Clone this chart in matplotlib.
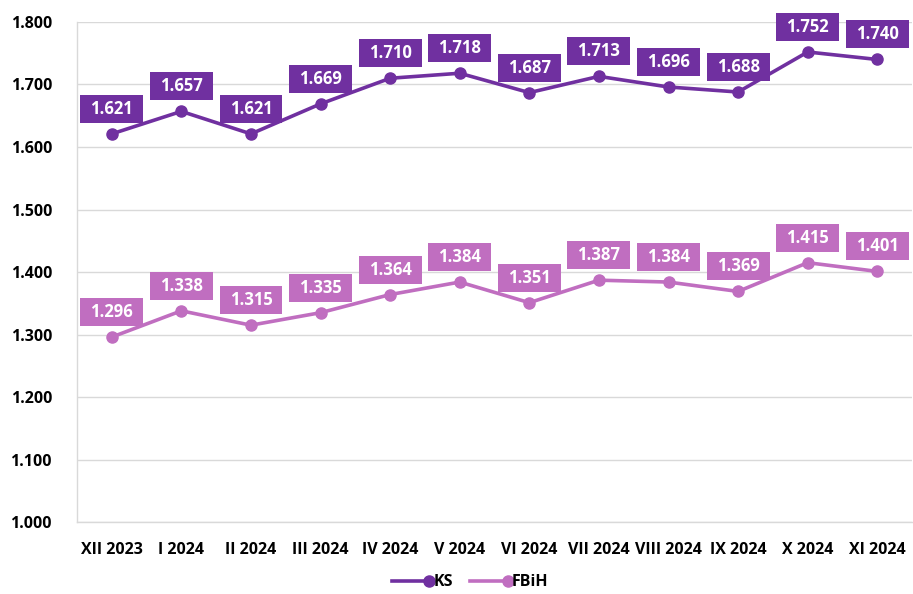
import matplotlib
matplotlib.use("Agg")
import matplotlib.pyplot as plt
from matplotlib.legend_handler import HandlerBase
from matplotlib.lines import Line2D
from matplotlib.path import Path

categories = ["XII 2023", "I 2024", "II 2024", "III 2024", "IV 2024", "V 2024",
              "VI 2024", "VII 2024", "VIII 2024", "IX 2024", "X 2024", "XI 2024"]
ks = [1.621, 1.657, 1.621, 1.669, 1.710, 1.718, 1.687, 1.713, 1.696, 1.688, 1.752, 1.740]
fbih = [1.296, 1.338, 1.315, 1.335, 1.364, 1.384, 1.351, 1.387, 1.384, 1.369, 1.415, 1.401]
yticks = [1.0, 1.1, 1.2, 1.3, 1.4, 1.5, 1.6, 1.7, 1.8]

plt.rcParams['font.family'] = ['Open Sans', 'DejaVu Sans']

c_ks = "#7030A0"
c_fb = "#C06EC0"

fig = plt.figure(figsize=(9.13, 5.94), dpi=100)
ax = fig.add_axes([0.0843, 0.121, 0.9147, 0.842])

x = list(range(len(categories)))
ax.plot(x, ks, color=c_ks, lw=2.6, marker='o', ms=8, label="KS", zorder=3)
ax.plot(x, fbih, color=c_fb, lw=2.6, marker='o', ms=8, label="FBiH", zorder=3)


def label_box(x0, y0, width, height, mutation_size):
    px = 0.6 * mutation_size
    py = 0.3 * mutation_size
    xa, xb = x0 - px, x0 + width + px
    ya, yb = y0 - py, y0 + height + py
    return Path([(xa, ya), (xb, ya), (xb, yb), (xa, yb), (xa, ya)],
                [Path.MOVETO, Path.LINETO, Path.LINETO, Path.LINETO, Path.CLOSEPOLY])


def fmt(v):
    return f"{v:.3f}"

for series, col in ((ks, c_ks), (fbih, c_fb)):
    for xi, v in zip(x, series):
        ax.annotate(fmt(v), (xi, v), xytext=(0, 18), textcoords='offset points',
                    ha='center', va='center', color='white', fontsize=12, fontweight='bold',
                    bbox=dict(boxstyle=label_box, fc=col, ec='none'), zorder=4)

ax.set_xlim(-0.5, len(categories) - 0.5)
ax.set_ylim(1.0, 1.8)
ax.set_yticks(yticks)
ax.set_yticklabels([f"{t:.3f}" for t in yticks], fontsize=11.5, fontweight='bold')
ax.set_xticks(x)
ax.set_xticklabels(categories, fontsize=11.5, fontweight='bold')
ax.tick_params(length=0)
ax.tick_params(axis='x', pad=14)
ax.tick_params(axis='y', pad=18)
ax.grid(axis='y', color='#d9d9d9', lw=1)
ax.set_axisbelow(True)
for s in ['top', 'right']:
    ax.spines[s].set_visible(False)
ax.spines['left'].set_color('#d9d9d9')
ax.spines['bottom'].set_color('#d9d9d9')
ax.spines['left'].set_linewidth(1)
ax.spines['bottom'].set_linewidth(1)


class EndMarkerHandler(HandlerBase):
    def create_artists(self, legend, orig, xdescent, ydescent, width, height, fontsize, trans):
        y = height / 2 - ydescent
        line = Line2D([-xdescent, width - xdescent], [y, y], color=orig.get_color(),
                      lw=orig.get_linewidth(), transform=trans)
        mk = Line2D([width - xdescent - 3], [y], color=orig.get_color(), marker='o',
                    ms=orig.get_markersize(), lw=0, transform=trans)
        return [line, mk]

h = ax.get_legend_handles_labels()
leg = fig.legend(*h, loc='center', bbox_to_anchor=(0.515, 0.02), ncol=2, frameon=False,
                 prop={'size': 11.5, 'weight': 'bold'}, handlelength=2.6, handletextpad=0.0,
                 columnspacing=1.1, borderpad=0.2,
                 handler_map={Line2D: EndMarkerHandler()})

fig.savefig("out.png", dpi=100)
